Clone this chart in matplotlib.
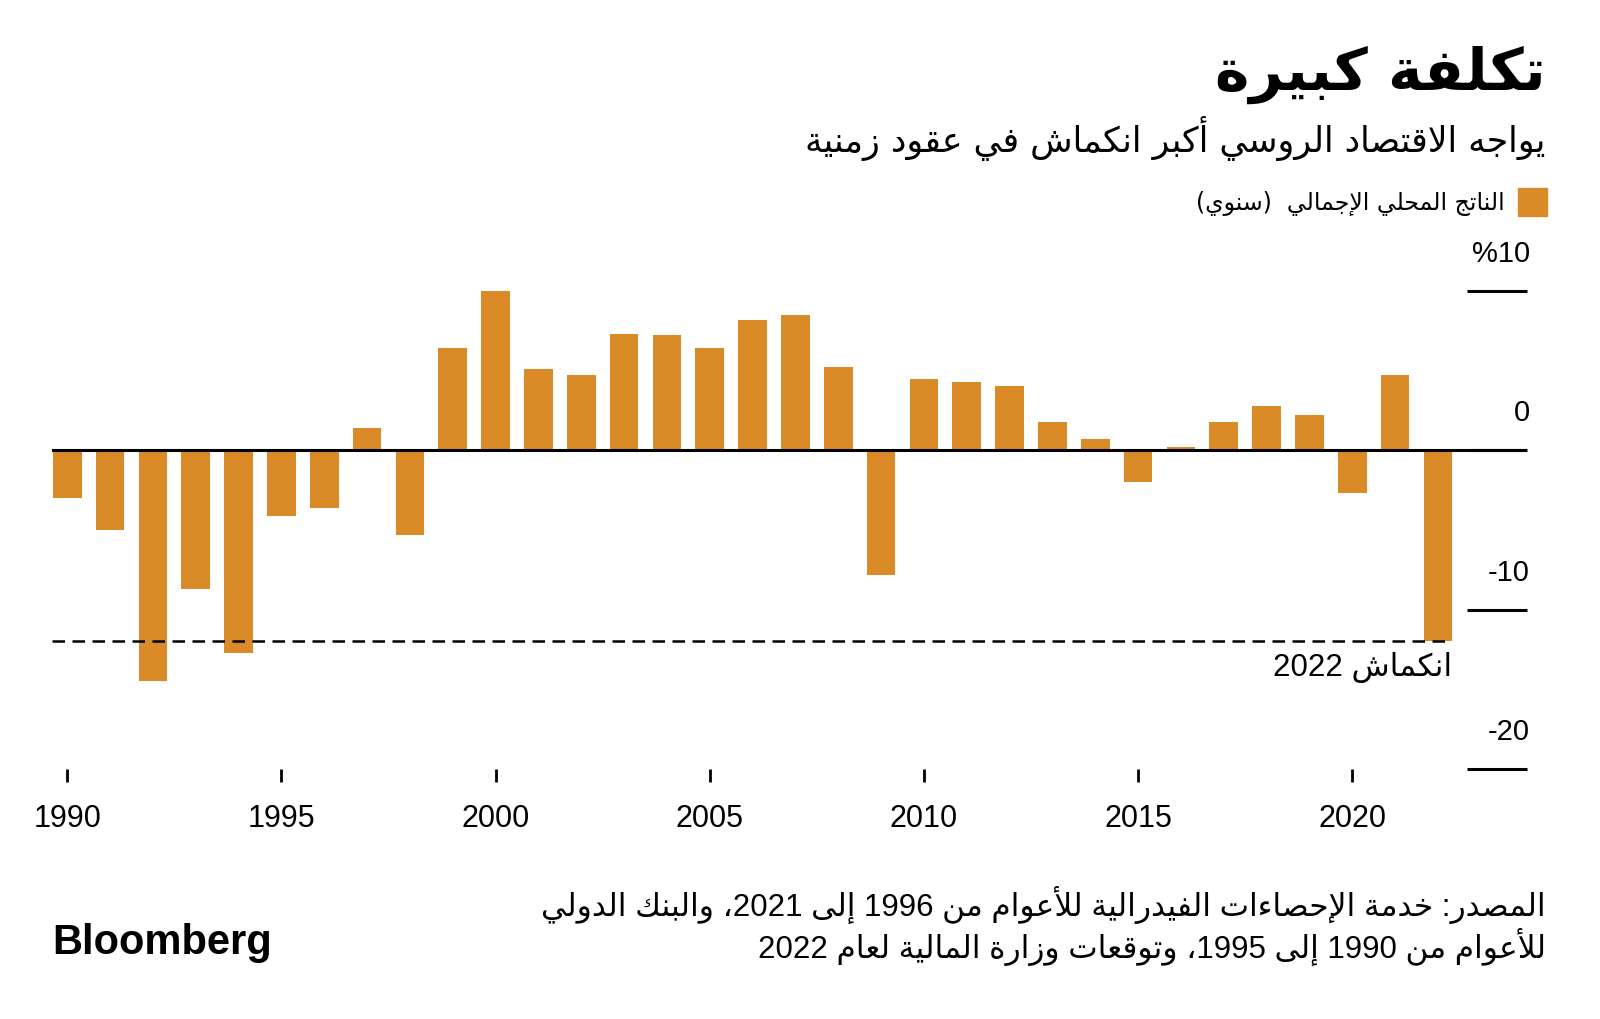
import re
import matplotlib
matplotlib.use("Agg")
import matplotlib.pyplot as plt
from matplotlib.patches import Rectangle

# data: Russian GDP growth, % per year
years = list(range(1990, 2023))
growth = [-3.0, -5.0, -14.5, -8.7, -12.7, -4.1, -3.6, 1.4, -5.3, 6.4,
          10.0, 5.1, 4.7, 7.3, 7.2, 6.4, 8.2, 8.5, 5.2, -7.8,
          4.5, 4.3, 4.0, 1.8, 0.7, -2.0, 0.2, 1.8, 2.8, 2.2,
          -2.7, 4.7, -12.0]
forecast_2022 = -12.0
yticks = [-20, -10, 0, 10]
ytick_labels = ["-20", "-10", "0", "%10"]
xticks = list(range(1990, 2021, 5))

title = "تكلفة كبيرة"
subtitle = "يواجه الاقتصاد الروسي أكبر انكماش في عقود زمنية"
legend_label = "الناتج المحلي الإجمالي  (سنوي)"
note = "انكماش 2022"
source1 = "المصدر: خدمة الإحصاءات الفيدرالية للأعوام من 1996 إلى 2021، والبنك الدولي"
source2 = "للأعوام من 1990 إلى 1995، وتوقعات وزارة المالية لعام 2022"

ORANGE = "#DA8A27"

# --- tiny arabic shaper (no raqm in matplotlib) ---
# letter -> (first presentation form, number of forms)
_base = [("ء", 0xFE80, 1), ("آ", 0xFE81, 2), ("أ", 0xFE83, 2), ("ؤ", 0xFE85, 2),
         ("إ", 0xFE87, 2), ("ئ", 0xFE89, 4), ("ا", 0xFE8D, 2), ("ب", 0xFE8F, 4),
         ("ة", 0xFE93, 2), ("ت", 0xFE95, 4), ("ث", 0xFE99, 4), ("ج", 0xFE9D, 4),
         ("ح", 0xFEA1, 4), ("خ", 0xFEA5, 4), ("د", 0xFEA9, 2), ("ذ", 0xFEAB, 2),
         ("ر", 0xFEAD, 2), ("ز", 0xFEAF, 2), ("س", 0xFEB1, 4), ("ش", 0xFEB5, 4),
         ("ص", 0xFEB9, 4), ("ض", 0xFEBD, 4), ("ط", 0xFEC1, 4), ("ظ", 0xFEC5, 4),
         ("ع", 0xFEC9, 4), ("غ", 0xFECD, 4), ("ف", 0xFED1, 4), ("ق", 0xFED5, 4),
         ("ك", 0xFED9, 4), ("ل", 0xFEDD, 4), ("م", 0xFEE1, 4), ("ن", 0xFEE5, 4),
         ("ه", 0xFEE9, 4), ("و", 0xFEED, 2), ("ى", 0xFEEF, 2), ("ي", 0xFEF1, 4)]
FORMS = {c: (b, n) for c, b, n in _base}
LAMALEF = {"آ": 0xFEF5, "أ": 0xFEF7, "إ": 0xFEF9, "ا": 0xFEFB}


def ar(text):
    res = []
    i = 0
    while i < len(text):
        c = text[i]
        if c not in FORMS:
            res.append(c)
            i += 1
            continue
        base, n = FORMS[c]
        prev = text[i - 1] if i > 0 else ""
        left = prev in FORMS and FORMS[prev][1] == 4
        nxt = text[i + 1] if i + 1 < len(text) else ""
        if c == "ل" and nxt in LAMALEF:
            res.append(chr(LAMALEF[nxt] + (1 if left else 0)))
            i += 2
            continue
        right = n == 4 and nxt in FORMS
        if n == 1:
            form = 0
        elif left and right:
            form = 3
        elif left:
            form = 1
        elif right:
            form = 2
        else:
            form = 0
        res.append(chr(base + form))
        i += 1
    shaped = "".join(res)
    toks = re.findall(r"[0-9A-Za-z]+|.", shaped)
    mirror = {"(": ")", ")": "("}
    return "".join(mirror.get(t, t) for t in reversed(toks))


FAM = ["Liberation Sans", "DejaVu Sans"]
plt.rcParams["font.family"] = FAM

fig = plt.figure(figsize=(16, 10.2), dpi=100)
ax = fig.add_axes([0.0325, 0.2451, 0.921875, 0.5])

w = 0.67
ax.bar(years, growth, width=w, color=ORANGE, zorder=2)
ax.set_xlim(1989.643, 2024.08)
ax.set_ylim(-20, 12)
ax.axhline(0, color="black", lw=2.2, zorder=3)
ax.hlines(forecast_2022, ax.get_xlim()[0], years[-1] + w / 2,
          color="black", lw=1.8, linestyles=(0, (5, 3)), zorder=3)
ax.text(years[-1] + w / 2, forecast_2022 - 1.6, ar(note), ha="right", va="center",
        fontsize=22.5, family=FAM)

for s in ax.spines.values():
    s.set_visible(False)

ax.set_yticks(yticks)
ax.yaxis.tick_right()
ax.tick_params(axis="y", direction="in", length=43, width=2.2, labelright=False)
for v, lab in zip(yticks, ytick_labels):
    ax.text(1.002, v + 1.5, lab, transform=ax.get_yaxis_transform(),
            ha="right", va="bottom", fontsize=21)

ax.set_xticks(xticks)
ax.tick_params(axis="x", direction="out", length=9.4, width=2, pad=15, labelsize=22)

# header
fig.text(0.966, 1 - 90 / 1020, ar(title), ha="right", va="baseline",
         fontsize=42, fontweight="bold", family=["DejaVu Sans"])
fig.text(0.966, 1 - 152 / 1020, ar(subtitle), ha="right", va="baseline",
         fontsize=25, family=["DejaVu Sans"])
fig.patches.append(Rectangle((1518 / 1600, 1 - 217 / 1020), 29 / 1600, 28 / 1020,
                             transform=fig.transFigure, color=ORANGE))
fig.text(1505 / 1600, 1 - 204 / 1020, ar(legend_label), ha="right", va="center",
         fontsize=17, family=["DejaVu Sans"])

# footer
fig.text(0.9662, 1 - 905 / 1020, ar(source1), ha="right", va="center",
         fontsize=22.5, family=FAM)
fig.text(0.9662, 1 - 947 / 1020, ar(source2), ha="right", va="center",
         fontsize=22.5, family=FAM)
fig.text(52 / 1600, 1 - 954 / 1020, "Bloomberg", ha="left", va="baseline",
         fontsize=30, fontweight="bold")

fig.savefig("out.png", dpi=100)
